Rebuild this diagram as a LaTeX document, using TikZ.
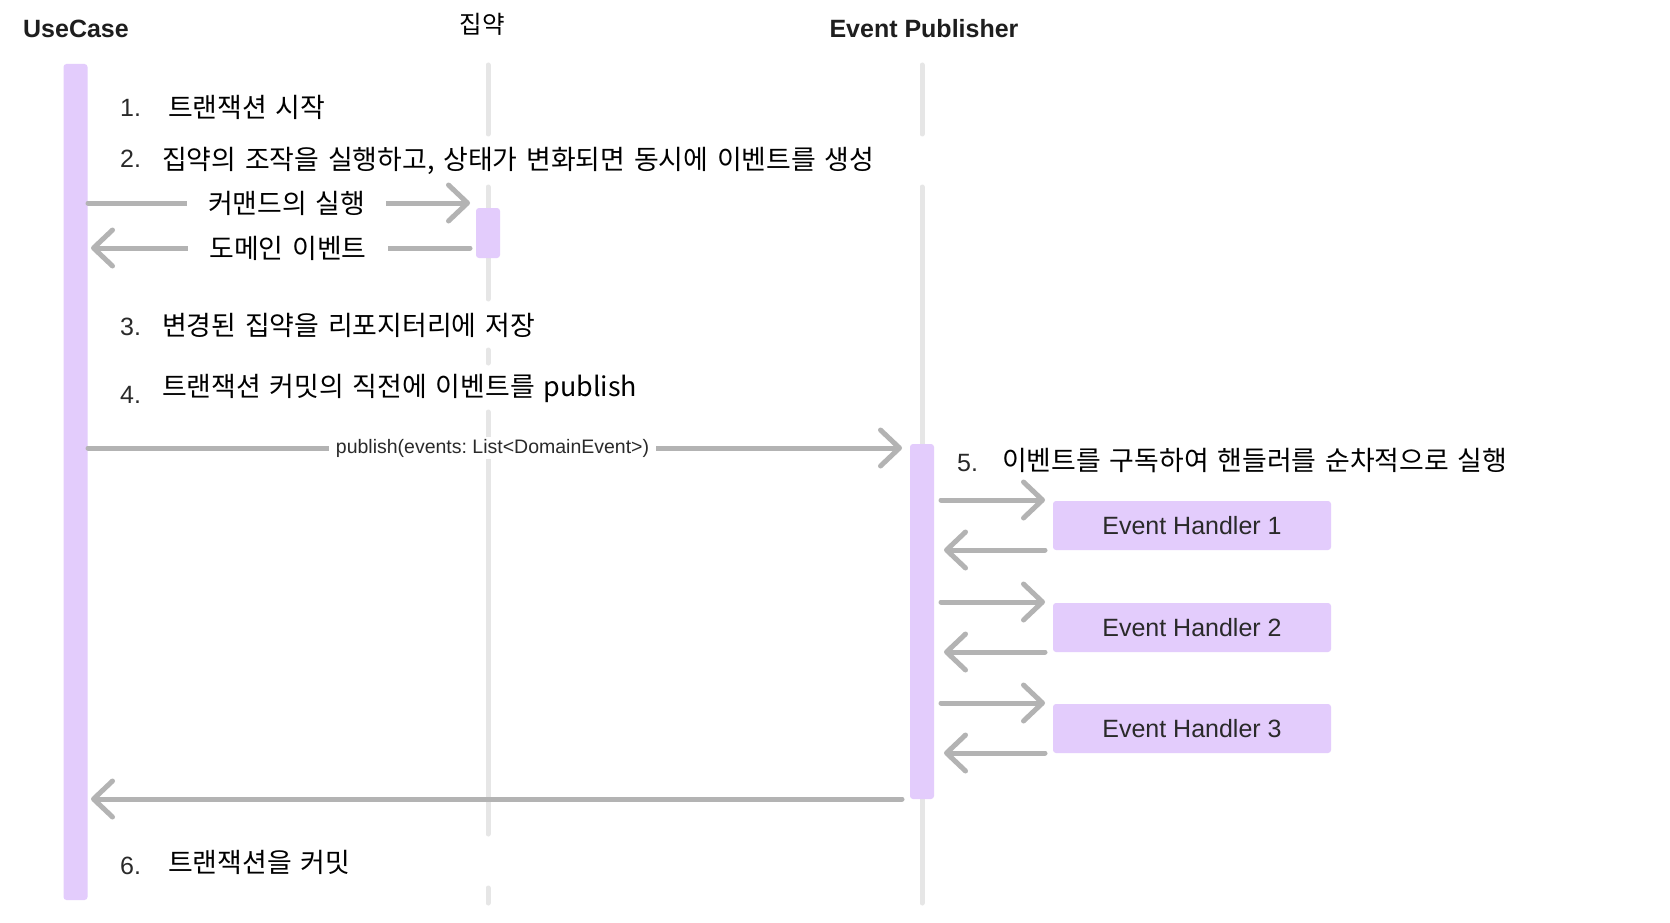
\documentclass[tikz,border=0pt]{standalone}
\usepackage{fontspec}
\setmainfont{Liberation Sans}
\newfontfamily\kr[WordSpace=1.45]{Noto Sans CJK KR}
\usetikzlibrary{arrows.meta}
\definecolor{purp}{HTML}{E3CCFC}
\definecolor{lifegray}{HTML}{E6E6E6}
\definecolor{arrgray}{HTML}{B3B3B3}
\definecolor{titlec}{HTML}{1E1E1E}
\definecolor{numc}{HTML}{2A2A2A}
\newcommand\kfont{\kr\fontsize{26.9}{31}\selectfont}
\frenchspacing
\begin{document}
\begin{tikzpicture}[x=1pt,y=-1pt,
  life/.style={draw=lifegray,line width=5pt,line cap=round},
  act/.style={fill=purp,rounded corners=3pt,inner sep=0pt},
  msg/.style={draw=arrgray,line width=5pt,line cap=round,
    -{Straight Barb[length=19pt,width=36pt,round]}},
  msglab/.style={fill=white,inner ysep=2pt,text=black,font=\kfont},
  title/.style={font=\bfseries\fontsize{25}{30}\selectfont,text=titlec,inner sep=0pt},
  num/.style={font=\fontsize{25}{29}\selectfont,text=numc,anchor=west,inner sep=0pt},
  ktext/.style={font=\kfont,anchor=west,inner sep=0pt},
  handler/.style={fill=purp,rounded corners=3pt,minimum width=278pt,minimum height=49pt,
    font=\fontsize{25}{30}\selectfont,text=numc,inner sep=0pt}]
\useasboundingbox[fill=white] (0,0) rectangle (1670,923);

% titles
\node[title] (tuc) at (76,29) {UseCase};
\node[font=\kr\fontsize{24.5}{29}\selectfont,inner sep=0pt] (tagg) at (482,24) {집약};
\node[title] (tep) at (924,29) {Event Publisher};

% lifeline coordinates
\coordinate (a1) at (488,65);  \coordinate (a2) at (488,134);
\coordinate (a3) at (488,187); \coordinate (a4) at (488,299);
\coordinate (a5) at (488,350); \coordinate (a6) at (488,363);
\coordinate (a7) at (488,412); \coordinate (a8) at (488,834);
\coordinate (a9) at (488,888); \coordinate (a10) at (488,903);
\coordinate (e1) at (922,65);  \coordinate (e2) at (922,134);
\coordinate (e3) at (922,187); \coordinate (e4) at (922,903);
\draw[life] (a1) -- (a2);
\draw[life] (a3) -- (a4);
\draw[life] (a5) -- (a6);
\draw[life] (a7) -- (a8);
\draw[life] (a9) -- (a10);
\draw[life] (e1) -- (e2);
\draw[life] (e3) -- (e4);

% activation bars
\node[act,minimum width=24pt,minimum height=836pt] (ucbar) at (75.5,482) {};
\node[act,minimum width=24pt,minimum height=50pt] (aggbar) at (488,233) {};
\node[act,minimum width=24pt,minimum height=355pt] (epbar) at (922,621.5) {};

% handlers
\node[handler] (h1) at (1192,525.5) {Event Handler 1};
\node[handler] (h2) at (1192,627.5) {Event Handler 2};
\node[handler] (h3) at (1192,728.5) {Event Handler 3};

% step texts
\node[num] (n1) at (120,108) {1.};
\node[ktext] (t1) at (168,107) {트랜잭션 시작};
\node[num] (n2) at (120,159) {2.};
\node[ktext] (t2) at (162,161) {집약의 조작을 실행하고, 상태가 변화되면 동시에 이벤트를 생성};
\node[num] (n3) at (120,327) {3.};
\node[ktext] (t3) at (162,325) {변경된 집약을 리포지터리에 저장};
\node[num] (n4) at (120,395) {4.};
\node[ktext] (t4) at (162,388) {트랜잭션 커밋의 직전에 이벤트를 publish};
\node[num] (n5) at (957,463) {5.};
\node[ktext] (t5) at (1002,461) {이벤트를 구독하여 핸들러를 순차적으로 실행};
\node[num] (n6) at (120,866) {6.};
\node[ktext] (t6) at (168,862) {트랜잭션을 커밋};

% message endpoints
\coordinate (c1s) at (88,203);  \coordinate (c1e) at (470,203);
\coordinate (c2s) at (470,248); \coordinate (c2e) at (91,248);
\coordinate (p1s) at (88,448);  \coordinate (p1e) at (902,448);
\coordinate (r1s) at (902,799); \coordinate (r1e) at (91,799);
\coordinate (hs1) at (941,500); \coordinate (he1) at (1045,500);
\coordinate (hr1) at (1045,550); \coordinate (hb1) at (944,550);
\coordinate (hs2) at (941,602); \coordinate (he2) at (1045,602);
\coordinate (hr2) at (1045,652); \coordinate (hb2) at (944,652);
\coordinate (hs3) at (941,703); \coordinate (he3) at (1045,703);
\coordinate (hr3) at (1045,753); \coordinate (hb3) at (944,753);

\draw[msg] (c1s) -- node[msglab,inner xsep=21pt,pos=0.52] (l1) {커맨드의 실행} (c1e);
\draw[msg] (c2s) -- node[msglab,inner xsep=21pt,pos=0.48] (l2) {도메인 이벤트} (c2e);
\draw[msg] (p1s) -- node[pos=0.497,fill=white,inner xsep=7pt,inner ysep=2pt,text=numc,
  font=\fontsize{19.5}{24}\selectfont] (l3) {publish(events: List<DomainEvent>)} (p1e);
\draw[msg] (r1s) -- (r1e);
\draw[msg] (hs1) -- (he1);
\draw[msg] (hr1) -- (hb1);
\draw[msg] (hs2) -- (he2);
\draw[msg] (hr2) -- (hb2);
\draw[msg] (hs3) -- (he3);
\draw[msg] (hr3) -- (hb3);
\end{tikzpicture}
\end{document}
